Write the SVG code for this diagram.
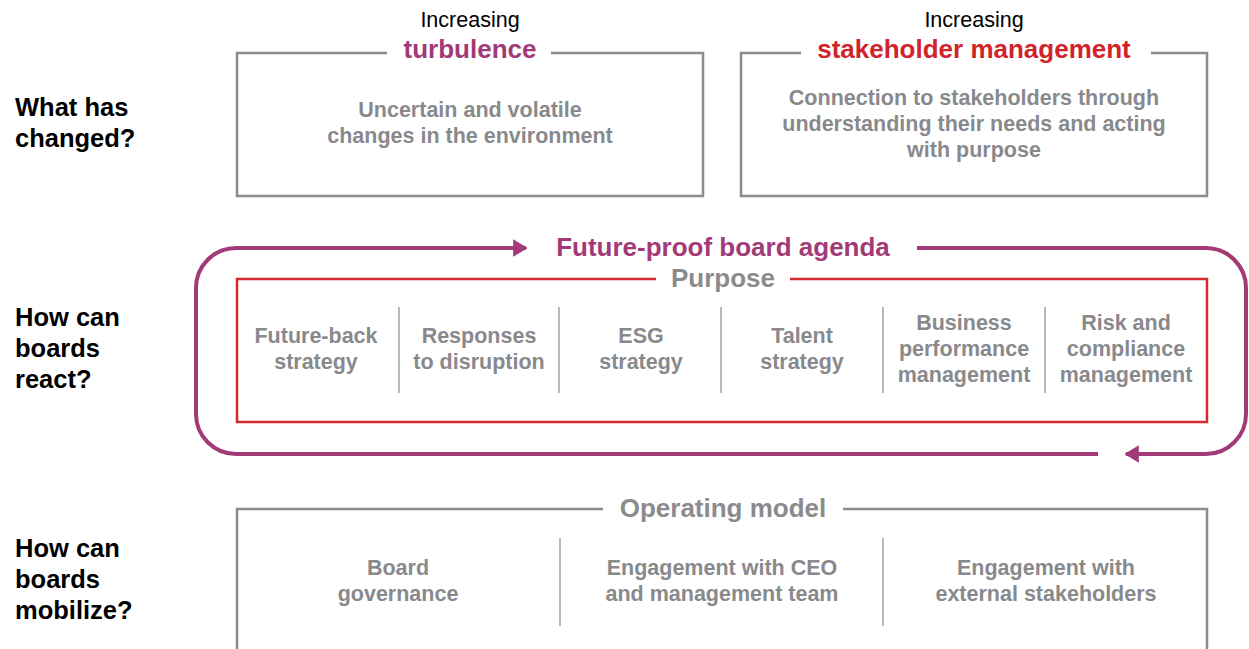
<svg xmlns="http://www.w3.org/2000/svg" width="1249" height="649" viewBox="0 0 1249 649">
<style>
text{font-family:"Liberation Sans",Arial,sans-serif;}
.q{font-size:25.5px;font-weight:bold;fill:#000;}
.inc{font-size:21.5px;fill:#000;text-anchor:middle;}
.hd{font-size:26px;font-weight:bold;text-anchor:middle;}
.g{font-size:21.5px;font-weight:bold;fill:#88898c;text-anchor:middle;}
.gbox{fill:none;stroke:#8c8c8e;stroke-width:2.5;}
.div{stroke:#a2a2a4;stroke-width:1.5;}
.loop{fill:none;stroke:#a23a78;stroke-width:4;}
</style>
<defs>
<marker id="ah" markerWidth="3.6" markerHeight="4.4" refX="3.2" refY="2.2" orient="auto" markerUnits="strokeWidth">
<path d="M0,0 L3.6,2.2 L0,4.4 Z" fill="#a23a78"/>
</marker>
</defs>

<g id="row-labels">
<text class="q" x="15" y="116">What has</text>
<text class="q" x="15" y="147">changed?</text>
<text class="q" x="15" y="326">How can</text>
<text class="q" x="15" y="357">boards</text>
<text class="q" x="15" y="388">react?</text>
<text class="q" x="15" y="557">How can</text>
<text class="q" x="15" y="588">boards</text>
<text class="q" x="15" y="619">mobilize?</text>
</g>

<g id="turbulence">
<path class="gbox" d="M387,53 H237 V196 H703 V53 H551"/>
<text class="inc" x="470" y="27">Increasing</text>
<text class="hd" x="470" y="58" fill="#a23a78">turbulence</text>
<text class="g" x="470" y="117">Uncertain and volatile</text>
<text class="g" x="470" y="143">changes in the environment</text>
</g>

<g id="stakeholder">
<path class="gbox" d="M801,53 H741 V196 H1207 V53 H1151"/>
<text class="inc" x="974" y="27">Increasing</text>
<text class="hd" x="974" y="58" fill="#d2232a">stakeholder management</text>
<text class="g" x="974" y="105">Connection to stakeholders through</text>
<text class="g" x="974" y="131">understanding their needs and acting</text>
<text class="g" x="974" y="157">with purpose</text>
</g>

<g id="connectors">
<path class="loop" d="M1098,454 H236 A40,40 0 0 1 196,414 V288 A40,40 0 0 1 236,248 H526" marker-end="url(#ah)"/>
<path class="loop" d="M917,248 H1206 A40,40 0 0 1 1246,288 V414 A40,40 0 0 1 1206,454 H1126" marker-end="url(#ah)"/>
</g>

<g id="agenda">
<text class="hd" x="723" y="256" fill="#a23a78">Future-proof board agenda</text>
</g>

<g id="purpose">
<path d="M656,279 H237 V422 H1207 V279 H790" fill="none" stroke="#d42a2f" stroke-width="2.5"/>
<text class="hd" x="723" y="287" fill="#8b8b8e">Purpose</text>
<line class="div" x1="399" y1="307" x2="399" y2="393"/>
<line class="div" x1="559" y1="307" x2="559" y2="393"/>
<line class="div" x1="721" y1="307" x2="721" y2="393"/>
<line class="div" x1="883" y1="307" x2="883" y2="393"/>
<line class="div" x1="1045" y1="307" x2="1045" y2="393"/>
<text class="g" x="316" y="343">Future-back</text>
<text class="g" x="316" y="369">strategy</text>
<text class="g" x="479" y="343">Responses</text>
<text class="g" x="479" y="369">to disruption</text>
<text class="g" x="641" y="343">ESG</text>
<text class="g" x="641" y="369">strategy</text>
<text class="g" x="802" y="343">Talent</text>
<text class="g" x="802" y="369">strategy</text>
<text class="g" x="964" y="330">Business</text>
<text class="g" x="964" y="356">performance</text>
<text class="g" x="964" y="382">management</text>
<text class="g" x="1126" y="330">Risk and</text>
<text class="g" x="1126" y="356">compliance</text>
<text class="g" x="1126" y="382">management</text>
</g>

<g id="operating-model">
<path class="gbox" d="M603,509 H237 V660 M1207,660 V509 H843"/>
<text class="hd" x="723" y="517" fill="#8b8b8e">Operating model</text>
<line class="div" x1="560" y1="538" x2="560" y2="626"/>
<line class="div" x1="883" y1="538" x2="883" y2="626"/>
<text class="g" x="398" y="575">Board</text>
<text class="g" x="398" y="601">governance</text>
<text class="g" x="722" y="575">Engagement with CEO</text>
<text class="g" x="722" y="601">and management team</text>
<text class="g" x="1046" y="575">Engagement with</text>
<text class="g" x="1046" y="601">external stakeholders</text>
</g>
</svg>
